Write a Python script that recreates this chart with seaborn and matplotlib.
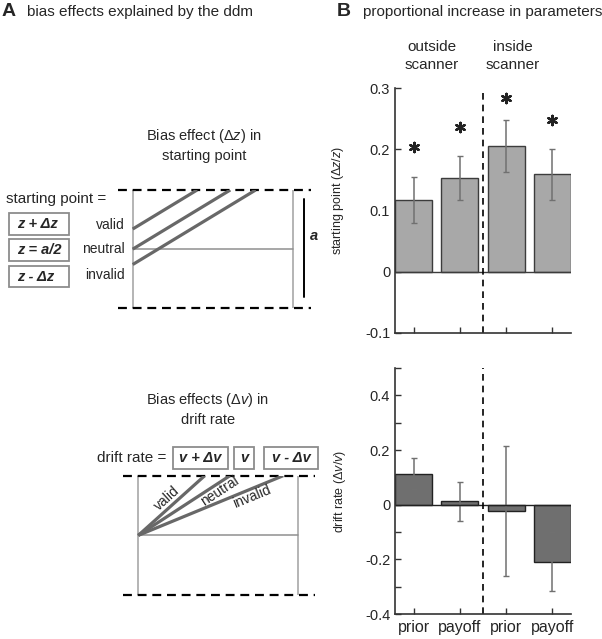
import numpy as np
import pandas as pd
import matplotlib
matplotlib.use('Agg')
import matplotlib.pyplot as plt
from matplotlib.patches import Rectangle
import seaborn as sns

# ---- panel B data ----
conditions = ['outside prior', 'outside payoff', 'inside prior', 'inside payoff']
tick_labels = ['prior', 'payoff', 'prior', 'payoff']
groups = ['outside\nscanner', 'inside\nscanner']
dz = [0.117, 0.153, 0.205, 0.159]          # starting point (dz/z)
dz_err = [0.038, 0.036, 0.042, 0.042]
dz_star = [0.203, 0.236, 0.283, 0.247]
dv = [0.113, 0.012, -0.023, -0.209]        # drift rate (dv/v)
dv_err = [0.056, 0.071, 0.239, 0.108]

# ---- panel A schematic ----
z_labels = ['valid', 'neutral', 'invalid']
z_start = [0.67, 0.5, 0.37]                # starting points, fraction of a
z_drift = 0.82
z_boxes = ['z + Δz', 'z = a/2', 'z - Δz']
v_labels = ['valid', 'neutral', 'invalid']
v_drift = [1.2, 0.87, 0.55]
v_boxes = ['v + Δv', 'v', 'v - Δv']

sns.set_style('ticks')
plt.rcParams['font.family'] = ['Liberation Sans', 'DejaVu Sans']
plt.rcParams['mathtext.fontset'] = 'custom'
plt.rcParams['mathtext.rm'] = 'Liberation Sans'
plt.rcParams['mathtext.it'] = 'Liberation Sans:italic'
plt.rcParams['mathtext.bf'] = 'Liberation Sans:bold'

W, H = 602, 639
fig = plt.figure(figsize=(W / 100, H / 100), dpi=100)

def fx(x):
    return x / W

def fy(y):
    return 1 - y / H

spine_col = '#333333'

def style_axis(ax):
    sns.despine(ax=ax)
    for s in ['left', 'bottom']:
        ax.spines[s].set_color(spine_col)
        ax.spines[s].set_linewidth(1.2)
    ax.tick_params(direction='in', length=4, width=1, color=spine_col, labelsize=10.5)
    ax.tick_params(which='minor', direction='in', length=4, width=1, color=spine_col)
    ax.set_xlabel('')

# ---------------- B top: starting point ----------------
ax1 = fig.add_axes([fx(395), fy(333), 176 / W, 245 / H])
df_z = pd.DataFrame({'cond': conditions, 'val': dz})
sns.barplot(data=df_z, x='cond', y='val', color='#a8a8a8', saturation=1, width=0.8,
            edgecolor='#3c3c3c', linewidth=1, ax=ax1)
ax1.errorbar(range(4), dz, yerr=dz_err, fmt='none', ecolor='#707070', elinewidth=1.1, capsize=2)
ax1.scatter(range(4), dz_star, marker=(6, 2, 0), s=45, c='#222222', linewidths=1.7, zorder=5)
ax1.axhline(0, color='#3c3c3c', lw=1)
ax1.axvline(1.5, color='black', lw=1.2, ls=(0, (4, 3)))
ax1.set_xlim(-0.4, 3.4)
ax1.set_ylim(-0.1, 0.3)
ax1.set_yticks([-0.1, 0, 0.1, 0.2, 0.3])
ax1.set_yticklabels(['-0.1', '0', '0.1', '0.2', '0.3'])
ax1.set_xticks(range(4))
ax1.set_xticklabels([])
style_axis(ax1)
ax1.set_ylabel(r'starting point ($\mathit{Δz/z}$)', fontsize=9)
ax1.yaxis.set_label_coords((346 - 395) / 176, 0.54)
for gx, g in zip([0.4, 2.15], groups):
    ax1.text(gx, 1.13, g, transform=ax1.get_xaxis_transform(), ha='center', va='center',
             fontsize=11, linespacing=1.35)

# ---------------- B bottom: drift rate ----------------
ax2 = fig.add_axes([fx(395), fy(614), 176 / W, 246 / H])
df_v = pd.DataFrame({'cond': conditions, 'val': dv})
sns.barplot(data=df_v, x='cond', y='val', color='#6f6f6f', saturation=1, width=0.8,
            edgecolor='#222222', linewidth=1, ax=ax2)
ax2.errorbar(range(4), dv, yerr=dv_err, fmt='none', ecolor='#707070', elinewidth=1.1, capsize=2)
ax2.axhline(0, color='#222222', lw=1)
ax2.axvline(1.5, color='black', lw=1.2, ls=(0, (4, 3)))
ax2.set_xlim(-0.4, 3.4)
ax2.set_ylim(-0.4, 0.5)
ax2.set_yticks([-0.4, -0.2, 0, 0.2, 0.4])
ax2.set_yticklabels(['-0.4', '-0.2', '0', '0.2', '0.4'])
ax2.set_yticks([-0.3, -0.1, 0.1, 0.3, 0.5], minor=True)
ax2.set_xticks(range(4))
ax2.set_xticklabels(tick_labels, fontsize=11)
style_axis(ax2)
ax2.tick_params(axis='x', labelsize=11.5, pad=4)
ax2.set_ylabel(r'drift rate ($\mathit{Δv/v}$)', fontsize=9)
ax2.yaxis.set_label_coords((348 - 395) / 176, 0.5)

# ---------------- A top: starting point schematic ----------------
ax_z = fig.add_axes([fx(118), fy(308.3), (310.7 - 118) / W, 118.3 / H])
ax_z.set_xlim(-(132.7 - 118) / 160, (310.7 - 132.7) / 160)
ax_z.set_ylim(0, 1)
ax_z.axis('off')
thin = '#a0a0a0'
for t in [0, 1]:
    ax_z.plot([t, t], [0, 1], color=thin, lw=1.1)
ax_z.plot([0, 1], [0.5, 0.5], color='#909090', lw=1.1)
for e in [0, 1]:
    ax_z.axhline(e, color='black', lw=1.6, ls=(0, (4, 2.6)), clip_on=False)
for z in z_start:
    ax_z.plot([0, (1 - z) / z_drift], [z, 1], color='#686868', lw=2.3, solid_capstyle='butt')
for lab, ly in zip(z_labels, [0.70, 0.5, 0.28]):
    ax_z.text(-0.048, ly, lab, ha='right', va='center', fontsize=10)
ax_z.plot([1.07, 1.07], [0.093, 0.921], color='black', lw=1.4)
ax_z.text(1.135, 0.61, 'a', fontsize=10.5, fontweight='bold', fontstyle='italic',
          ha='center', va='center', clip_on=False)

# ---------------- A bottom: drift rate schematic ----------------
ax_v = fig.add_axes([fx(123.3), fy(595), (315 - 123.3) / W, 119.3 / H])
ax_v.set_xlim(-(138.3 - 123.3) / 159.4, (315 - 138.3) / 159.4)
ax_v.set_ylim(0, 1)
ax_v.axis('off')
for t in [0, 1]:
    ax_v.plot([t, t], [0, 1], color=thin, lw=1.1)
ax_v.plot([0, 1], [0.5, 0.5], color='#909090', lw=1.1)
for e in [0, 1]:
    ax_v.axhline(e, color='black', lw=1.6, ls=(0, (4, 2.6)), clip_on=False)
for v in v_drift:
    ax_v.plot([0, 0.5 / v], [0.5, 1], color='#686868', lw=2.3, solid_capstyle='butt')
for lab, v, pos in zip(v_labels, v_drift, [(0.18, 0.813), (0.514, 0.872), (0.713, 0.821)]):
    ang = ax_v.transData.transform_angles(np.array([np.degrees(np.arctan(v))]),
                                           np.array([[0.0, 0.5]]))[0]
    ax_v.text(pos[0], pos[1], lab, rotation=ang, rotation_mode='anchor',
              ha='center', va='center', fontsize=10)

# ---------------- panel A text and boxes ----------------
fig.text(fx(2), fy(16.5), 'A', fontsize=14, fontweight='bold', va='baseline')
fig.text(fx(27), fy(16), 'bias effects explained by the ddm', fontsize=11, va='baseline')
fig.text(fx(337), fy(16.5), 'B', fontsize=14, fontweight='bold', va='baseline')
fig.text(fx(363), fy(16), 'proportional increase in parameters', fontsize=11, va='baseline')

fig.text(fx(204), fy(145), 'Bias effect ($\\mathit{Δz}$) in\nstarting point', fontsize=10.5,
         ha='center', va='center', linespacing=1.3)
fig.text(fx(6), fy(199), 'starting point =', fontsize=11, va='center')
box_ec = '#8c8c8c'
for txt, (y0, y1) in zip(z_boxes, [(213.3, 235), (239.3, 261), (266, 287.3)]):
    fig.add_artist(Rectangle((fx(9.3), fy(y1)), (69 - 9.3) / W, (y1 - y0) / H,
                             transform=fig.transFigure, fill=False, ec=box_ec, lw=1.3))
    fig.text(fx(16.7), fy((y0 + y1) / 2), txt, fontsize=10.5, fontweight='bold',
             fontstyle='italic', va='center', ha='left')

fig.text(fx(208), fy(409), 'Bias effects ($\\mathit{Δv}$) in\ndrift rate', fontsize=10.5,
         ha='center', va='center', linespacing=1.3)
fig.text(fx(97), fy(457.5), 'drift rate =', fontsize=11, va='center')
for txt, (x0, x1) in zip(v_boxes, [(172.7, 227.7), (234.3, 254), (264.3, 318)]):
    fig.add_artist(Rectangle((fx(x0), fy(469)), (x1 - x0) / W, (469 - 446.7) / H,
                             transform=fig.transFigure, fill=False, ec=box_ec, lw=1.3))
    fig.text(fx((x0 + x1) / 2), fy(457.8), txt, fontsize=10.5, fontweight='bold',
             fontstyle='italic', va='center', ha='center')

fig.savefig('out.png', dpi=100)
